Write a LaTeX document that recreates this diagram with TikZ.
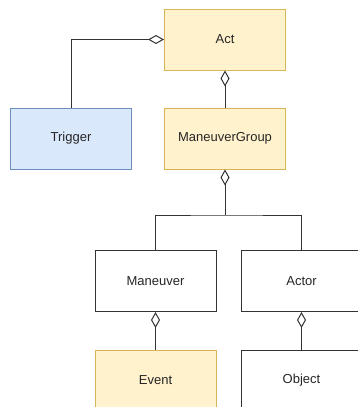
\documentclass[tikz,border=0pt]{standalone}
\usepackage{fontspec}
\setmainfont{Liberation Sans}
\usetikzlibrary{arrows.meta}
\definecolor{yfill}{HTML}{FFF2CC}
\definecolor{ydraw}{HTML}{D6B656}
\definecolor{bfill}{HTML}{DAE8FC}
\definecolor{bdraw}{HTML}{6C8EBF}
\definecolor{lin}{HTML}{333333}
\begin{document}
\begin{tikzpicture}[x=1pt,y=-1pt,
  box/.style={draw=lin,fill=white,line width=1pt,minimum width=121pt,minimum height=61pt,inner sep=0pt,font=\fontsize{13}{15}\selectfont,text=black!85},
  ybox/.style={box,draw=ydraw,fill=yfill},
  bbox/.style={box,draw=bdraw,fill=bfill},
  agg/.style={draw=lin,line width=1pt,{Diamond[open,length=16pt,width=9pt,line width=1pt]}-}]
\useasboundingbox (0,0) rectangle (357,407);
\node[ybox] (act) at (225,39.5) {Act};
\node[bbox] (trig) at (71,138.5) {Trigger};
\node[ybox] (mg) at (225,138.5) {ManeuverGroup};
\node[box] (man) at (155.5,281) {Maneuver};
\node[box] (actor) at (301.5,281) {Actor};
\node[ybox] (ev) at (155.5,380.5) {Event};
\node[box] (obj) at (301.5,380.5) {Object};
\coordinate (j) at (225,215);
\draw[agg] (act.west) -| (trig.north);
\draw[agg] (act.south) -- (mg.north);
\draw[agg] (mg.south) -- (j);
\draw[draw=lin,line width=1pt] (man.north) |- (j) -| (actor.north);
\draw[agg] (man.south) -- (ev.north);
\draw[agg] (actor.south) -- (obj.north);
\end{tikzpicture}
\end{document}
